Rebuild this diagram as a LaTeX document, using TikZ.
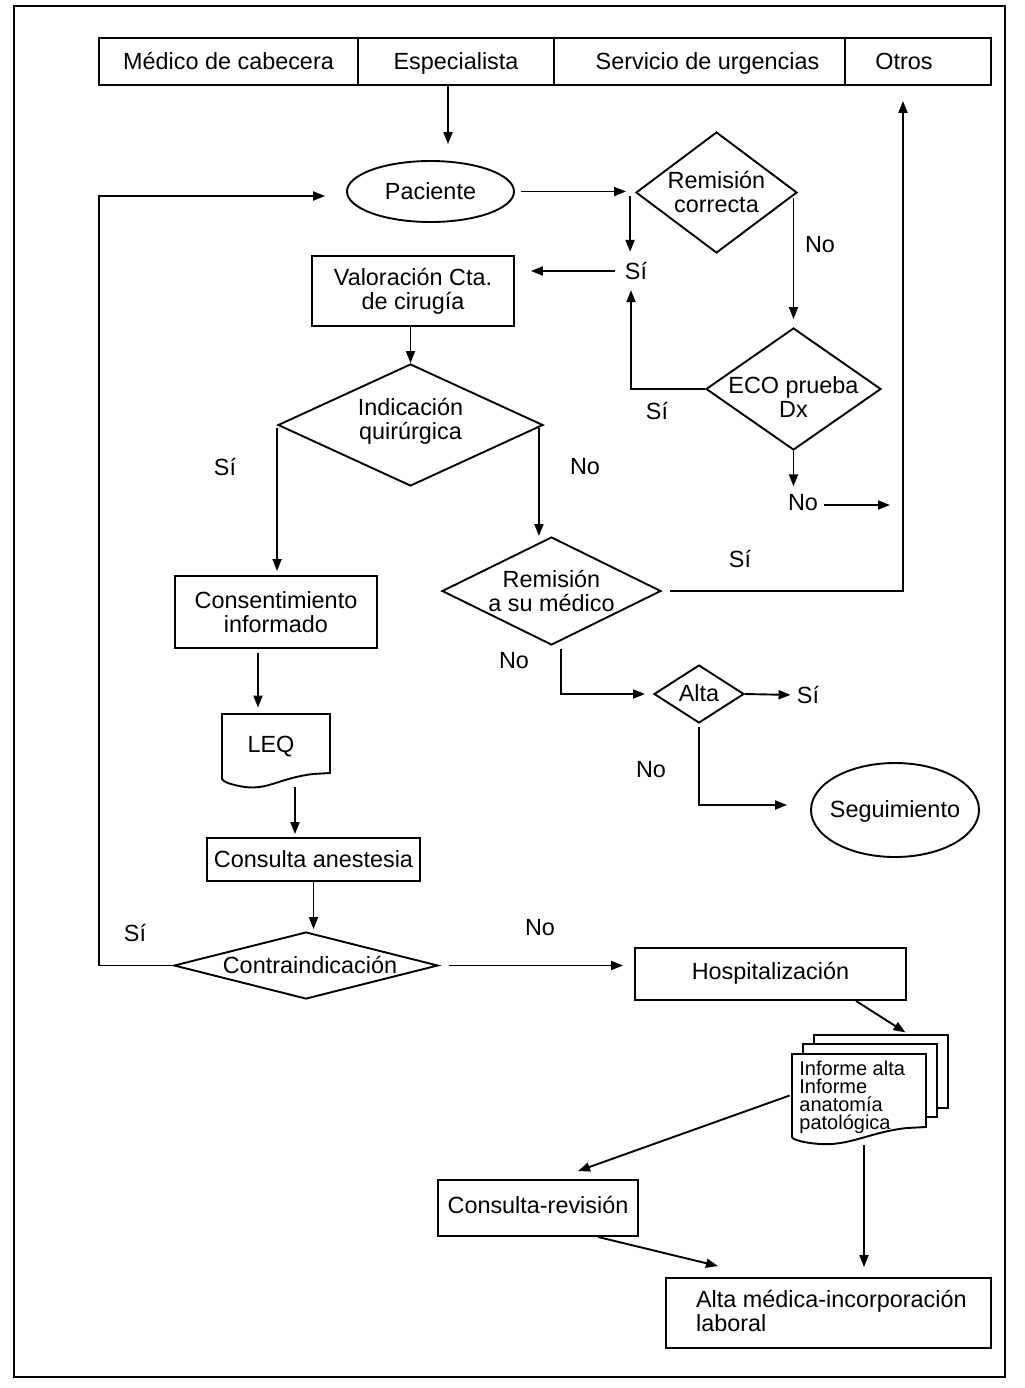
\documentclass[tikz,border=0pt]{standalone}
\usepackage{fontspec}
\setmainfont{Liberation Sans}
\usetikzlibrary{shapes.geometric,arrows.meta}
\begin{document}
\begin{tikzpicture}[x=0.5pt,y=-0.5pt,
  every node/.style={font=\fontsize{11.7}{12}\selectfont},
  box/.style={draw,line width=0.95pt,rectangle,inner sep=0pt,align=center},
  dia/.style={draw,line width=0.95pt,diamond,inner sep=0pt},
  ell/.style={draw,line width=0.95pt,ellipse,inner sep=0pt},
  arr/.style={line width=0.95pt,-{Triangle[length=6pt,width=4.5pt]}},
  con/.style={line width=0.95pt},
  lab/.style={inner sep=1pt},
  hl/.style={text height=10.2pt,text depth=2.4pt,inner sep=0pt},
]
\useasboundingbox (0,0) rectangle (1024,1388);
\draw[line width=1pt] (14,6) rectangle (1005,1377);

% header
\node[box,minimum width=129.5pt,minimum height=23.5pt,label={[hl]center:Médico de cabecera}] (h1) at (228.5,61.5) {};
\node[box,minimum width=98pt,minimum height=23.5pt,label={[hl]center:Especialista}] (h2) at (456,61.5) {};
\node[box,minimum width=145.5pt,minimum height=23.5pt,label={[hl,xshift=4pt]center:Servicio de urgencias}] (h3) at (699.5,61.5) {};
\node[box,minimum width=73pt,minimum height=23.5pt,label={[hl,xshift=-7pt]center:Otros}] (h4) at (918,61.5) {};

% ellipses
\node[ell,minimum width=83.5pt,minimum height=30.5pt,label={[hl]center:Paciente}] (pac) at (430.5,191.5) {};
\node[ell,minimum width=84pt,minimum height=47pt,label={[hl]center:Seguimiento}] (seg) at (895,810) {};

% diamonds
\node[dia,minimum width=80.5pt,minimum height=60.5pt,label={[align=center,yshift=0.5pt]center:Remisión\\correcta}] (rc) at (716.5,192.5) {};
\node[dia,minimum width=87.5pt,minimum height=61pt,label={[align=center,yshift=-4pt]center:ECO prueba\\Dx}] (eco) at (793.5,389) {};
\node[dia,minimum width=132.5pt,minimum height=61pt,label={[align=center,yshift=2pt]center:Indicación\\quirúrgica}] (iq) at (410.5,425) {};
\node[dia,minimum width=109.5pt,minimum height=54pt,label={[align=center]center:Remisión\\a su médico}] (rm) at (551.5,591) {};
\node[dia,minimum width=45pt,minimum height=29pt,label={[hl]center:Alta}] (alta) at (699,694) {};
\node[dia,minimum width=132pt,minimum height=33.5pt,label={[hl,xshift=2pt]center:Contraindicación}] (ci) at (306,965.5) {};

% rectangles
\node[box,minimum width=101pt,minimum height=35pt] (val) at (413,291) {Valoración Cta.\\de cirugía};
\node[box,minimum width=101pt,minimum height=36pt] (cons) at (276,612) {Consentimiento\\informado};
\node[box,minimum width=106.5pt,minimum height=21.5pt,label={[hl]center:Consulta anestesia}] (ca) at (313.5,859.5) {};
\node[box,minimum width=135.5pt,minimum height=26pt,label={[hl,yshift=1pt]center:Hospitalización}] (hosp) at (770.5,974) {};
\node[box,minimum width=100pt,minimum height=28pt,label={[hl,yshift=1pt]center:Consulta-revisión}] (cr) at (538,1208) {};
\node[box,minimum width=162.5pt,minimum height=35pt,
  label={[anchor=west,align=left,xshift=12pt,yshift=1pt]west:Alta médica-incorporación\\laboral}] (amed) at (828.5,1313) {};

% LEQ document
\draw[con,fill=white] (222,714) -- (330,714) -- (330,773) -- (313,774)
  .. controls (280,778) and (268,790) .. (245,787)
  .. controls (232,785) and (223,782) .. (222,779) -- cycle;
\node[minimum width=53.5pt,minimum height=33pt,inner sep=0pt,label={[hl,xshift=-2.5pt,yshift=1pt]center:LEQ}] (leq) at (276,747) {};

% multi-document
\node[box,fill=white,minimum width=67pt,minimum height=36.5pt] (doc3) at (881,1071.5) {};
\node[box,fill=white,minimum width=67pt,minimum height=36.5pt] (doc2) at (870,1080.5) {};
\draw[con,fill=white] (792,1054) -- (926,1054) -- (926,1127) -- (907,1128)
  .. controls (870,1132) and (850,1146) .. (820,1144)
  .. controls (805,1143) and (793,1140) .. (792,1137) -- cycle;
\node[minimum width=67pt,minimum height=41.5pt,inner sep=0pt] (doc1) at (859,1095.5) {};
\node[anchor=west,align=left,inner sep=0pt,font=\fontsize{10}{9}\selectfont] (doctext) at (799,1097) {Informe alta\\Informe\\anatomía\\patológica};

% labels
\node[lab] (no1) at (820,245) {No};
\node[lab] (si1) at (636,271) {Sí};
\node[lab] (si2) at (657,411) {Sí};
\node[lab] (no2) at (803,503) {No};
\node[lab] (siiq) at (225,467) {Sí};
\node[lab] (noiq) at (585,467) {No};
\node[lab] (sirm) at (740,559) {Sí};
\node[lab] (norm) at (514,661) {No};
\node[lab] (si3) at (808,695) {Sí};
\node[lab] (noalta) at (651,770) {No};
\node[lab] (sici) at (135,933) {Sí};
\node[lab] (noci) at (540,928) {No};

\coordinate (ecoout) at (890,505);
\coordinate (lft) at (99,0);

% connectors
\draw[arr,shorten >=8pt] ([xshift=-4pt]h2.south) -- ([xshift=-4pt]h2.south |- pac.north);
\draw[arr,shorten <=3pt,shorten >=4.5pt] (pac.east) -- (pac.east -| rc.west);
\draw[arr,shorten <=1.5pt,shorten >=4pt] ([xshift=-2.5pt]rc.west) -- ([xshift=-2.5pt]rc.west |- si1.north);
\draw[arr,shorten <=4pt,shorten >=8pt] (si1.west) -- (si1.west -| val.east);
\draw[arr] (iq.north |- val.south) -- (iq.north);
\draw[arr,shorten <=2.5pt,shorten >=4pt] (rc.east -| eco.north) -- (eco.north);
\draw[arr,shorten >=4pt] (eco.west) -| ([xshift=-2.5pt]si1.south);
\draw[arr,shorten >=3pt] (eco.south) -- (eco.south |- no2.north);
\draw[arr] (no2.east |- ecoout) ++(4,0) -- (ecoout);
\draw[arr,shorten <=4pt,shorten >=7.5pt] (rm.east) -| ([xshift=-7.5pt]h4.south);
\draw[arr,shorten <=1.5pt,shorten >=2pt] (iq.west) -- (iq.west |- cons.north);
\draw[arr,shorten <=1.5pt] ([xshift=-2.5pt]iq.east) -- ([xshift=-2.5pt]iq.east |- rm.north);
\draw[arr,shorten <=1.5pt,shorten >=4pt] ([xshift=4.75pt]rm.south) |- (alta.west);
\draw[arr,shorten >=2pt] (alta.east) -- (si3.west);
\draw[arr,shorten <=1.5pt,shorten >=11.5pt] (alta.south) |- ([yshift=2.5pt]seg.west);
\draw[arr,shorten <=2pt,shorten >=3pt] ([xshift=-9pt]cons.south) -- ([xshift=-9pt]cons.south |- leq.north);
\draw[arr,shorten <=3.5pt,shorten >=1.5pt] ([xshift=9.5pt]leq.south) -- ([xshift=9.5pt]leq.south |- ca.north);
\draw[arr,shorten >=1pt] (ca.south) -- (ca.south |- ci.north);
\draw[arr,shorten >=10.5pt] (ci.west) -- (ci.west -| lft) |- ([yshift=-2.25pt]pac.west);
\draw[arr,shorten <=5pt,shorten >=5.5pt] (ci.east) -- (ci.east -| hosp.west);
\draw[arr,shorten >=1.5pt] ([xshift=42.75pt]hosp.south) -- ([xshift=13.5pt]doc3.north);
\draw[arr] ([xshift=-1pt]doc1.west) -- ([shift={(20pt,4pt)}]cr.north);
\draw[arr,shorten <=4pt,shorten >=5pt] ([xshift=2.5pt]doc1.south) -- ([xshift=2.5pt]doc1.south |- amed.north);
\draw[arr] ([xshift=30pt]cr.south) -- ([shift={(-55.25pt,5.5pt)}]amed.north);
\end{tikzpicture}
\end{document}
